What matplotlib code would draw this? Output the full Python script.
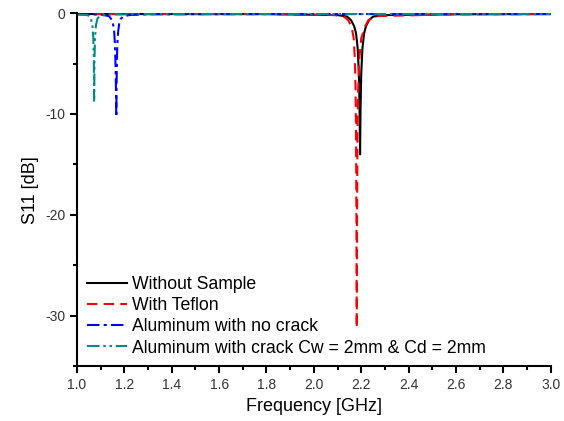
import numpy as np
import matplotlib
matplotlib.use("Agg")
import matplotlib.pyplot as plt
from matplotlib.ticker import MultipleLocator

plt.rcParams['font.family'] = ['Liberation Sans', 'DejaVu Sans']

# --- data (frequency in GHz, S11 in dB) ---
f_nosample = [1.0, 1.8, 2.10, 2.14, 2.157, 2.17, 2.178, 2.185, 2.19, 2.193, 2.195,
              2.197, 2.200, 2.205, 2.212, 2.220, 2.233, 2.25, 2.30, 2.6, 3.0]
s_nosample = [-0.1, -0.1, -0.2, -0.35, -0.7, -1.3, -2.0, -3.5, -6.0, -9.5, -14.0,
              -9.5, -6.0, -3.5, -2.0, -1.3, -0.7, -0.35, -0.2, -0.12, -0.1]

f_teflon = [1.0, 1.8, 2.09, 2.13, 2.145, 2.16, 2.168, 2.173, 2.176, 2.178, 2.1795, 2.181,
            2.1825, 2.184, 2.187, 2.192, 2.20, 2.215, 2.23, 2.27, 2.6, 3.0]
s_teflon = [-0.1, -0.1, -0.2, -0.4, -0.7, -1.4, -2.5, -4.5, -7.5, -12.0, -20.0, -31.2,
            -20.0, -12.0, -7.5, -4.5, -2.5, -1.4, -0.7, -0.3, -0.12, -0.1]

f_al = [1.0, 1.10, 1.135, 1.148, 1.156, 1.160, 1.1625, 1.1645, 1.166, 1.1675, 1.169,
        1.171, 1.174, 1.178, 1.184, 1.195, 1.22, 1.3, 2.0, 3.0]
s_al = [-0.1, -0.15, -0.3, -0.7, -1.5, -3.0, -5.0, -7.5, -10.3, -6.5, -4.2,
        -2.8, -1.8, -1.1, -0.6, -0.35, -0.2, -0.12, -0.1, -0.1]

f_crack = [1.0, 1.045, 1.058, 1.065, 1.069, 1.071, 1.0725, 1.074, 1.076, 1.080,
           1.087, 1.10, 1.13, 1.3, 2.0, 3.0]
s_crack = [-0.15, -0.2, -0.5, -1.2, -2.5, -4.5, -8.8, -4.5, -2.5, -1.2,
           -0.5, -0.25, -0.15, -0.1, -0.1, -0.1]

labels = ["Without Sample", "With Teflon", "Aluminum with no crack",
          "Aluminum with crack Cw = 2mm & Cd = 2mm"]

fig = plt.figure(figsize=(5.64, 4.21), dpi=100)
ax = fig.add_axes([0.1365, 0.130, 0.84, 0.839])

ax.plot(f_nosample, s_nosample, color='black', lw=1.5, ls='-', label=labels[0])
ax.plot(f_teflon, s_teflon, color='#ff0000', lw=1.5, ls=(0, (5, 3)), label=labels[1])
ax.plot(f_al, s_al, color='#0000ff', lw=1.5, ls=(0, (6, 2, 1.5, 2)), label=labels[2])
ax.plot(f_crack, s_crack, color='#008b8b', lw=1.5,
        ls=(0, (6, 1.8, 1.2, 1.8, 1.2, 1.8)), label=labels[3])

ax.set_xlim(1.0, 3.0)
ax.set_ylim(-35, 0)
ax.xaxis.set_major_locator(MultipleLocator(0.2))
ax.xaxis.set_minor_locator(MultipleLocator(0.1))
ax.yaxis.set_major_locator(MultipleLocator(10))
ax.yaxis.set_minor_locator(MultipleLocator(5))
ax.xaxis.set_major_formatter(plt.FuncFormatter(lambda v, p: f"{v:.1f}"))
ax.yaxis.set_major_formatter(plt.FuncFormatter(lambda v, p: f"{v:.0f}"))

for side in ['top', 'right']:
    ax.spines[side].set_visible(False)
for side in ['left', 'bottom']:
    ax.spines[side].set_linewidth(1.5)

ax.tick_params(which='major', direction='out', length=5, width=1.5, labelsize=10,
               labelcolor='#333333')
ax.tick_params(which='minor', direction='out', length=3, width=1.5)

ax.set_xlabel("Frequency [GHz]", fontsize=13)
ax.set_ylabel("S11 [dB]", fontsize=13)

ax.legend(loc='lower left', frameon=False, fontsize=12.7, handlelength=2.3,
          handletextpad=0.25, labelspacing=0.24, borderaxespad=0.15,
          bbox_to_anchor=(0.0, 0.0))

fig.savefig("out.png", dpi=100)
